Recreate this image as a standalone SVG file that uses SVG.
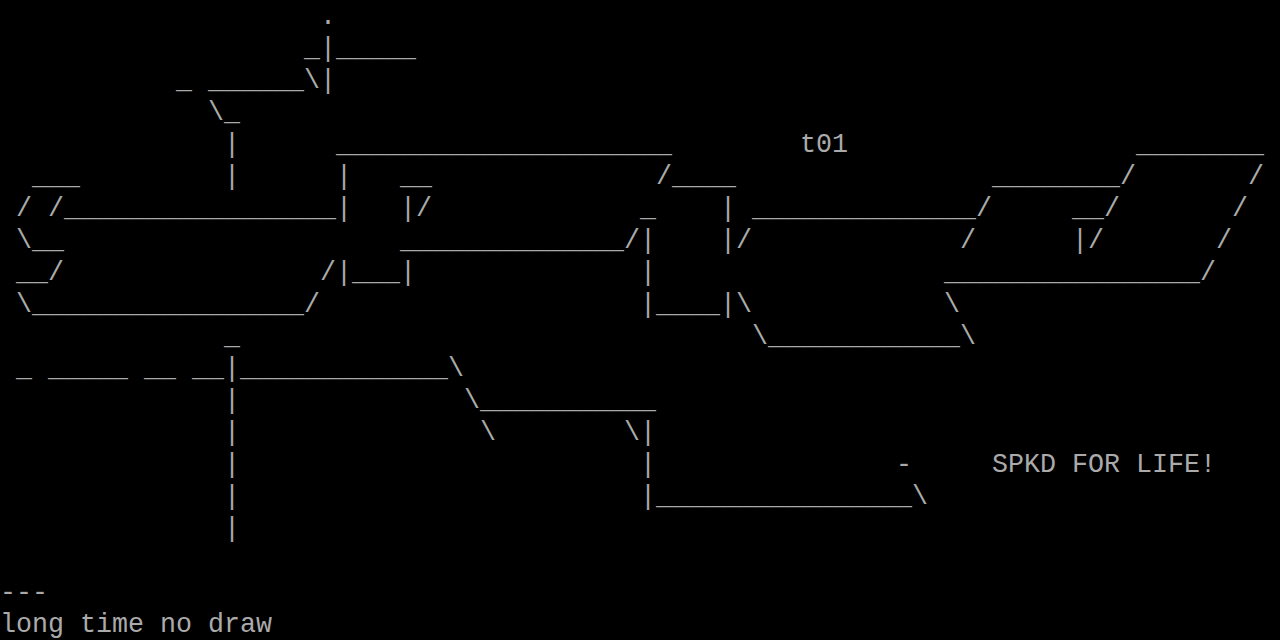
<svg xmlns="http://www.w3.org/2000/svg" width="1280" height="640" viewBox="0 0 1280 640">
<style>
.t{font-family:"Liberation Mono","DejaVu Sans Mono",monospace;font-size:28px;fill:#aaaaaa;white-space:pre}
</style>
<rect width="1280" height="640" fill="#000000"/>
<g id="art" transform="scale(0.952381,1)">
<text class="t" y="24" xml:space="preserve"><tspan x="336">.</tspan></text>
<text class="t" y="56" xml:space="preserve"><tspan x="319.2">_|_____</tspan></text>
<text class="t" y="88" xml:space="preserve"><tspan x="184.8">_</tspan><tspan x="218.4">______\|</tspan></text>
<text class="t" y="120" xml:space="preserve"><tspan x="218.4">\_</tspan></text>
<text class="t" y="152" xml:space="preserve"><tspan x="235.2">|</tspan><tspan x="352.8">_____________________</tspan><tspan x="1192.8">________</tspan></text>
<text class="t" y="184" xml:space="preserve"><tspan x="33.6">___</tspan><tspan x="235.2">|</tspan><tspan x="352.8">|</tspan><tspan x="420">__</tspan><tspan x="688.8">/____</tspan><tspan x="1041.6">________/</tspan><tspan x="1310.4">/</tspan></text>
<text class="t" y="216" xml:space="preserve"><tspan x="16.8">/</tspan><tspan x="50.4">/_________________</tspan><tspan x="352.8">|</tspan><tspan x="420">|/</tspan><tspan x="672">_</tspan><tspan x="756">|</tspan><tspan x="789.6">______________/</tspan><tspan x="1125.6">__/</tspan><tspan x="1293.6">/</tspan></text>
<text class="t" y="248" xml:space="preserve"><tspan x="16.8">\__</tspan><tspan x="420">______________/|</tspan><tspan x="756">|/</tspan><tspan x="1008">/</tspan><tspan x="1125.6">|/</tspan><tspan x="1276.8">/</tspan></text>
<text class="t" y="280" xml:space="preserve"><tspan x="16.8">__/</tspan><tspan x="336">/|___|</tspan><tspan x="672">|</tspan><tspan x="991.2">________________/</tspan></text>
<text class="t" y="312" xml:space="preserve"><tspan x="16.8">\_________________/</tspan><tspan x="672">|____|\</tspan><tspan x="991.2">\</tspan></text>
<text class="t" y="344" xml:space="preserve"><tspan x="235.2">_</tspan><tspan x="789.6">\____________\</tspan></text>
<text class="t" y="376" xml:space="preserve"><tspan x="16.8">_</tspan><tspan x="50.4">_____</tspan><tspan x="151.2">__</tspan><tspan x="201.6">__|_____________\</tspan></text>
<text class="t" y="408" xml:space="preserve"><tspan x="235.2">|</tspan><tspan x="487.2">\___________</tspan></text>
<text class="t" y="440" xml:space="preserve"><tspan x="235.2">|</tspan><tspan x="504">\</tspan><tspan x="655.2">\|</tspan></text>
<text class="t" y="472" xml:space="preserve"><tspan x="235.2">|</tspan><tspan x="672">|</tspan><tspan x="940.8">-</tspan></text>
<text class="t" y="504" xml:space="preserve"><tspan x="235.2">|</tspan><tspan x="672">|________________\</tspan></text>
<text class="t" y="536" xml:space="preserve"><tspan x="235.2">|</tspan></text>
<text class="t" y="600" xml:space="preserve"><tspan x="0">---</tspan></text>
</g>
<g id="labels" transform="scale(0.952381,1)">
<text id="label-t01" class="t" x="840" y="152">t01</text>
<text id="label-spkd" class="t" x="1041.6" y="472" xml:space="preserve">SPKD FOR LIFE!</text>
<text id="label-footer" class="t" x="0" y="632" xml:space="preserve">long time no draw</text>
</g>
</svg>
